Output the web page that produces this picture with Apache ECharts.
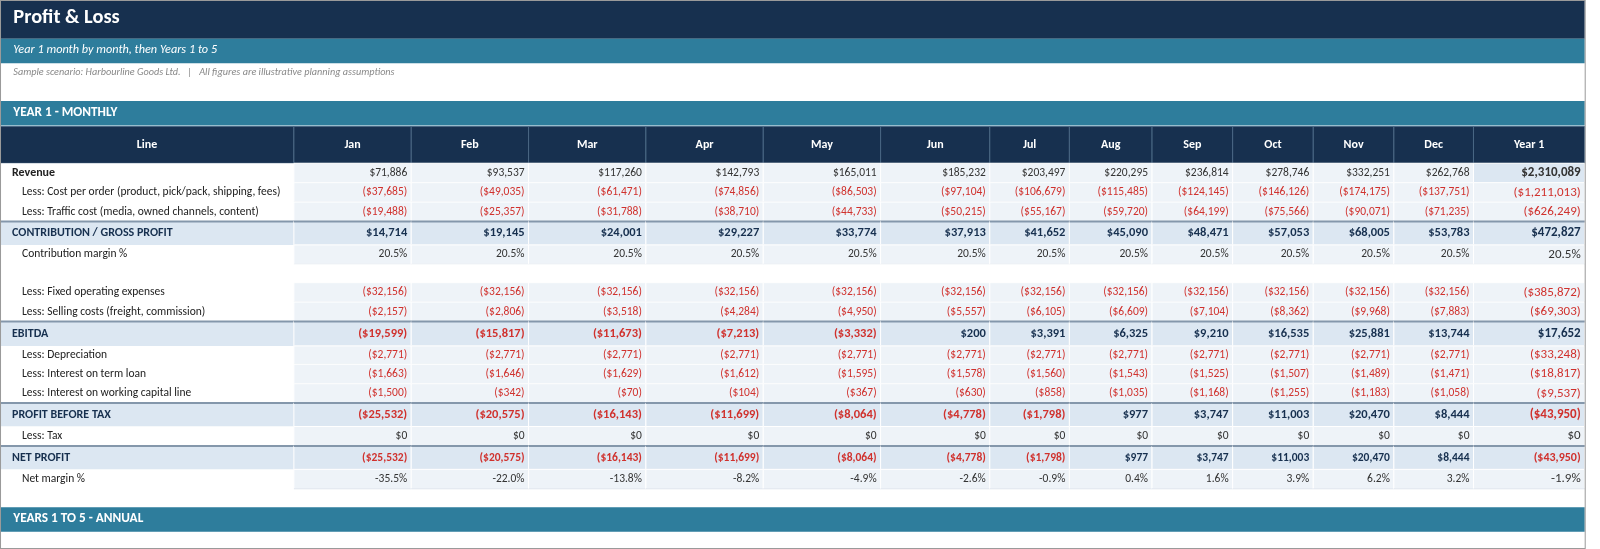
<!DOCTYPE html>
<html>
<head>
<meta charset="utf-8">
<script src="https://cdn.jsdelivr.net/npm/echarts@6/dist/echarts.min.js"></script>
<style>
  html, body { margin: 0; padding: 0; background: #fff; }
  #chart { width: 1600px; height: 549px; }
</style>
</head>
<body>
<div id="chart"></div>
<script>
// column headers
var months = ['Jan','Feb','Mar','Apr','May','Jun','Jul','Aug','Sep','Oct','Nov','Dec','Year 1'];

// row values (last value = Year 1 total)
var revenue      = [71886, 93537, 117260, 142793, 165011, 185232, 203497, 220295, 236814, 278746, 332251, 262768, 2310089];
var costPerOrder = [-37685, -49035, -61471, -74856, -86503, -97104, -106679, -115485, -124145, -146126, -174175, -137751, -1211013];
var trafficCost  = [-19488, -25357, -31788, -38710, -44733, -50215, -55167, -59720, -64199, -75566, -90071, -71235, -626249];
var contribution = [14714, 19145, 24001, 29227, 33774, 37913, 41652, 45090, 48471, 57053, 68005, 53783, 472827];
var contribMargin = [20.5, 20.5, 20.5, 20.5, 20.5, 20.5, 20.5, 20.5, 20.5, 20.5, 20.5, 20.5, 20.5];
var fixedOpex    = [-32156, -32156, -32156, -32156, -32156, -32156, -32156, -32156, -32156, -32156, -32156, -32156, -385872];
var sellingCosts = [-2157, -2806, -3518, -4284, -4950, -5557, -6105, -6609, -7104, -8362, -9968, -7883, -69303];
var ebitda       = [-19599, -15817, -11673, -7213, -3332, 200, 3391, 6325, 9210, 16535, 25881, 13744, 17652];
var depreciation = [-2771, -2771, -2771, -2771, -2771, -2771, -2771, -2771, -2771, -2771, -2771, -2771, -33248];
var termLoanInt  = [-1663, -1646, -1629, -1612, -1595, -1578, -1560, -1543, -1525, -1507, -1489, -1471, -18817];
var wclInt       = [-1500, -342, -70, -104, -367, -630, -858, -1035, -1168, -1255, -1183, -1058, -9537];
var profitBeforeTax = [-25532, -20575, -16143, -11699, -8064, -4778, -1798, 977, 3747, 11003, 20470, 8444, -43950];
var tax          = [0, 0, 0, 0, 0, 0, 0, 0, 0, 0, 0, 0, 0];
var netProfit    = [-25532, -20575, -16143, -11699, -8064, -4778, -1798, 977, 3747, 11003, 20470, 8444, -43950];
var netMargin    = [-35.5, -22.0, -13.8, -8.2, -4.9, -2.6, -0.9, 0.4, 1.6, 3.9, 6.2, 3.2, -1.9];

// row kinds: top = bold black label, item = indented, sub = subtotal band, pct = percentage, blank
var rows = [
  { label: 'Revenue', kind: 'top', values: revenue },
  { label: 'Less: Cost per order (product, pick/pack, shipping, fees)', kind: 'item', values: costPerOrder },
  { label: 'Less: Traffic cost (media, owned channels, content)', kind: 'item', values: trafficCost },
  { label: 'CONTRIBUTION / GROSS PROFIT', kind: 'sub', values: contribution },
  { label: 'Contribution margin %', kind: 'pct', values: contribMargin },
  { label: '', kind: 'blank', values: null },
  { label: 'Less: Fixed operating expenses', kind: 'item', values: fixedOpex },
  { label: 'Less: Selling costs (freight, commission)', kind: 'item', values: sellingCosts },
  { label: 'EBITDA', kind: 'sub', values: ebitda },
  { label: 'Less: Depreciation', kind: 'item', values: depreciation },
  { label: 'Less: Interest on term loan', kind: 'item', values: termLoanInt },
  { label: 'Less: Interest on working capital line', kind: 'item', values: wclInt },
  { label: 'PROFIT BEFORE TAX', kind: 'sub', values: profitBeforeTax },
  { label: 'Less: Tax', kind: 'item', values: tax },
  { label: 'NET PROFIT', kind: 'sub2', values: netProfit },
  { label: 'Net margin %', kind: 'pct', values: netMargin }
];

// layout (in a 1568x538 design space, scaled to the 1600x549 canvas)
var S = 1600 / 1568;
var colEdges = [0, 288, 403, 518, 633, 748, 863, 970, 1048, 1129, 1208, 1287, 1366, 1444, 1553];
var headerTop = 124, headerBottom = 160;
var rowHeights = [19, 19, 19, 23, 19, 18, 19, 19, 24, 18, 19, 19, 23, 19, 23, 19];
var rowTops = [];
(function () { var y = headerBottom; rowHeights.forEach(function (h) { rowTops.push(y); y += h; }); })();

var FONT = 'Carlito, "Liberation Sans Narrow", "Liberation Sans", Arial, sans-serif';
var NAVY = '#17304f', TEAL = '#2e7d9c', RED = '#d0312d', SUBFILL = '#dce7f2', CELLFILL = '#eef3f8';

function fmtMoney(v) {
  var s = '$' + Math.abs(v).toLocaleString('en-US');
  return v < 0 ? '(' + s + ')' : s;
}
function fmtPct(v) { return v.toFixed(1) + '%'; }

// cells: [col, row] ; row -1 = header
var cells = [];
for (var c = 0; c <= months.length; c++) cells.push([c, -1]);
rows.forEach(function (r, ri) {
  for (var c = 0; c <= months.length; c++) cells.push([c, ri]);
});

function renderCell(params, api) {
  var col = api.value(0), ri = api.value(1);
  var p0 = api.coord([colEdges[col], ri < 0 ? headerTop : rowTops[ri]]);
  var p1 = api.coord([colEdges[col + 1], ri < 0 ? headerBottom : rowTops[ri] + rowHeights[ri]]);
  var x = p0[0], y = p0[1], w = p1[0] - p0[0], h = p1[1] - p0[1];
  var children = [];
  if (ri < 0) {
    children.push({ type: 'rect', shape: { x: x, y: y, width: w, height: h },
      style: { fill: NAVY, stroke: '#4a6784', lineWidth: 1 } });
    children.push({ type: 'text', style: { x: x + w / 2, y: y + h / 2, text: col === 0 ? 'Line' : months[col - 1],
      fill: '#fff', font: 'bold 12px ' + FONT, align: 'center', verticalAlign: 'middle' } });
    return { type: 'group', children: children };
  }
  var r = rows[ri];
  var isSub = r.kind === 'sub' || r.kind === 'sub2';
  var isYear = col === months.length;
  var fill = '#fff';
  if (isSub) fill = SUBFILL;
  else if (r.kind !== 'blank' && col > 0) fill = (isYear && ri === 0) ? SUBFILL : CELLFILL;
  children.push({ type: 'rect', shape: { x: x, y: y, width: w, height: h },
    style: { fill: fill, stroke: (col > 0 && r.kind !== 'blank') ? '#ffffff' : null, lineWidth: 1 } });
  if (col > 0 && r.kind !== 'blank') {
    children.push({ type: 'line', shape: { x1: x, y1: y + h, x2: x + w, y2: y + h },
      style: { stroke: '#dde4ec', lineWidth: 1 } });
  }
  if (isSub) {
    children.push({ type: 'line', shape: { x1: x, y1: y, x2: x + w, y2: y },
      style: { stroke: '#8497ab', lineWidth: 2 } });
  }
  if (col === 0) {
    var indent = (r.kind === 'item' || r.kind === 'pct') ? 22 : 12;
    var lf = (r.kind === 'top' || isSub) ? 'bold 12px ' : '11.5px ';
    children.push({ type: 'text', style: { x: x + indent, y: y + h / 2, text: r.label,
      fill: isSub ? NAVY : '#222', font: lf + FONT, align: 'left', verticalAlign: 'middle',
      width: w - indent - 1, overflow: 'truncate', ellipsis: '' } });
  } else if (r.values) {
    var v = r.values[col - 1];
    var txt = r.kind === 'pct' ? fmtPct(v) : fmtMoney(v);
    var color = (r.kind !== 'pct' && v < 0) ? RED : (isSub ? NAVY : '#333');
    var size = isYear ? 13 : 11.5;
    var weight = '';
    if (isSub) { weight = 'bold '; size = isYear ? 13 : 12.5; if (r.kind === 'sub2') size = isYear ? 12 : 11.5; }
    if (isYear && ri === 0) weight = 'bold ';
    children.push({ type: 'text', style: { x: x + w - 4, y: y + h / 2, text: txt, fill: color,
      font: weight + size + 'px ' + FONT, align: 'right', verticalAlign: 'middle' } });
  }
  return { type: 'group', children: children };
}

var chart = echarts.init(document.getElementById('chart'));
chart.setOption({
  animation: false,
  grid: { left: 0, right: 0, top: 0, bottom: 0 },
  xAxis: { type: 'value', min: 0, max: 1568, show: false },
  yAxis: { type: 'value', min: 0, max: 538, inverse: true, show: false },
  graphic: [{
    type: 'group', x: 0, y: 0, scaleX: S, scaleY: S,
    children: [
      { type: 'rect', shape: { x: 0, y: 0, width: 1553, height: 38 }, style: { fill: NAVY }, z: 0 },
      { type: 'text', x: 13, y: 8, style: { text: 'Profit & Loss', fill: '#fff', font: 'bold 20px ' + FONT } },
      { type: 'rect', shape: { x: 0, y: 38, width: 1553, height: 24 }, style: { fill: TEAL } },
      { type: 'text', x: 13, y: 43, style: { text: 'Year 1 month by month, then Years 1 to 5', fill: '#fff', font: 'italic 12px ' + FONT } },
      { type: 'text', x: 13, y: 66, style: { text: 'Sample scenario: Harbourline Goods Ltd.   |   All figures are illustrative planning assumptions', fill: '#888', font: 'italic 10px ' + FONT } },
      { type: 'rect', shape: { x: 0, y: 99, width: 1553, height: 24 }, style: { fill: TEAL } },
      { type: 'text', x: 13, y: 104, style: { text: 'YEAR 1 - MONTHLY', fill: '#fff', font: 'bold 13px ' + FONT } },
      { type: 'rect', shape: { x: 0, y: 497, width: 1553, height: 24 }, style: { fill: TEAL } },
      { type: 'text', x: 13, y: 502, style: { text: 'YEARS 1 TO 5 - ANNUAL', fill: '#fff', font: 'bold 13px ' + FONT } },
      { type: 'rect', shape: { x: 0.5, y: 0.5, width: 1553, height: 537 }, style: { fill: null, stroke: '#9a9a9a', lineWidth: 1 }, z: 100 }
    ]
  }],
  series: [{
    type: 'custom',
    renderItem: renderCell,
    data: cells,
    silent: true,
    clip: false
  }]
});
</script>
</body>
</html>
